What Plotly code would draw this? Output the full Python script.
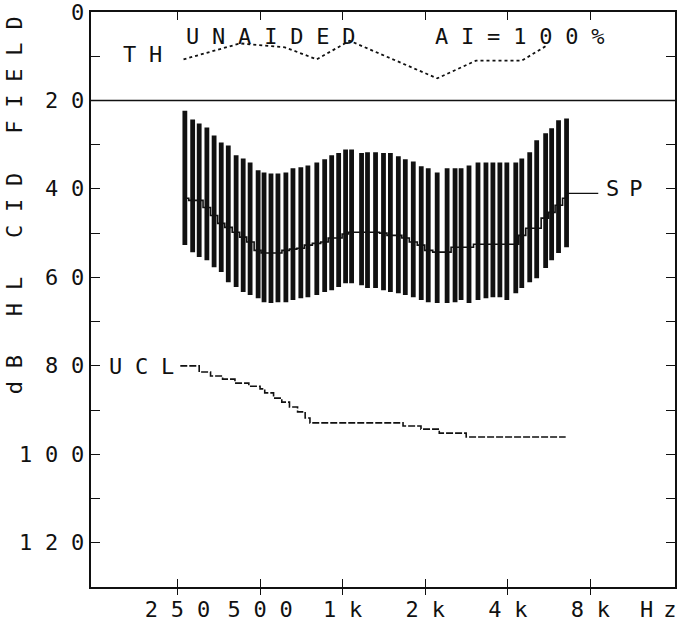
import math
import plotly.graph_objects as go

FONT = "DejaVu Sans Mono"
INK = "#111111"

# ---------------- data ----------------
y_tick_vals = [0, 10, 20, 30, 40, 50, 60, 70, 80, 90, 100, 110, 120, 130]
y_label_vals = [0, 20, 40, 60, 80, 100, 120]
y_label_text = ["0", "20", "40", "60", "80", "100", "120"]
x_tick_freqs = [250, 500, 1000, 2000, 4000, 8000]
x_tick_text = ["250", "500", "1k", "2k", "4k", "8k"]

bar_freq = [266, 284, 300, 320, 340, 361, 383, 409, 434, 460, 492, 517, 548, 581, 621, 659, 704, 747,
            805, 860, 912, 967, 1025, 1078, 1172, 1232, 1318, 1409, 1493, 1596, 1692, 1809, 1934, 2051, 2211,
            2403, 2569, 2702, 2888, 3114, 3329, 3529, 3742, 3967, 4276, 4497, 4807, 5096, 5494, 5777, 6122, 6548]
bar_top = [22.3, 24.3, 25.2, 26.1, 27.9, 29.5, 30.2, 32.4, 33.1, 34.0, 35.8, 36.3, 36.5, 36.5, 36.3, 35.3, 35.1, 34.7,
           34.0, 33.3, 32.4, 31.9, 31.1, 31.1, 31.9, 31.7, 31.7, 31.9, 31.9, 32.6, 33.3, 33.8, 34.9, 35.3, 36.3,
           35.3, 35.3, 35.3, 34.7, 34.0, 34.0, 34.0, 34.0, 34.0, 34.0, 33.1, 31.7, 29.0, 27.4, 26.3, 24.5, 24.1]
bar_bottom = [52.7, 54.3, 55.4, 56.1, 57.7, 58.8, 61.1, 62.2, 63.3, 64.0, 64.7, 65.6, 65.8, 65.6, 65.6, 65.1, 64.7, 64.5,
              64.0, 63.3, 62.9, 62.2, 61.3, 61.3, 61.8, 62.4, 62.4, 62.9, 63.3, 63.6, 64.0, 64.5, 65.1, 65.6, 65.8,
              65.8, 65.6, 65.1, 65.8, 65.1, 64.7, 64.5, 64.5, 65.1, 63.6, 62.4, 61.1, 60.2, 57.9, 56.1, 54.5, 53.2]
sp_level = [42.1, 42.6, 42.6, 44.2, 46.0, 47.8, 48.7, 49.8, 50.9, 52.0, 53.9, 54.5, 54.5, 54.5, 53.9, 53.6, 53.4, 52.7,
            52.3, 52.0, 51.1, 51.1, 50.2, 49.8, 49.8, 49.8, 49.8, 50.0, 50.5, 50.5, 51.1, 52.0, 52.7, 53.9, 54.3,
            54.3, 53.2, 53.2, 53.2, 52.5, 52.5, 52.5, 52.5, 52.5, 52.5, 50.5, 48.9, 48.9, 46.6, 45.3, 43.7, 42.1]

th_freq = [263, 423, 616, 805, 1060, 2211, 3062, 4497, 5540]
th_level = [10.7, 7.1, 8.0, 10.7, 6.5, 15.0, 11.0, 11.0, 7.6]

ucl_freq = [256, 300, 330, 365, 405, 455, 500, 520, 560, 600, 640, 685, 730, 760, 1660, 1930, 2250, 2820, 6500]
ucl_level = [80.0, 81.4, 82.3, 83.0, 83.9, 84.6, 85.2, 86.1, 87.3, 88.2, 89.3, 90.4, 91.8, 92.9, 93.6, 94.3, 95.2,
             96.1, 96.1]

# ---------------- geometry (pixels) ----------------
W, H = 684, 634
L, R, T, B = 91, 677, 12, 587
FS = 22
ADV = 0.6021 * FS   # monospace advance
LS = 12.8           # extra letter spacing


def px(x):
    return (x - L) / (R - L)


def py(y):
    return (B - y) / (B - T)


def spaced(s, ls=LS):
    if len(s) <= 1:
        return s
    return "<span style='letter-spacing:%.1fpx'>%s</span>%s" % (ls, s[:-1], s[-1])


def text_w(s, ls=LS):
    return len(s) * ADV + (len(s) - 1) * ls


fig = go.Figure()

# speech-range bars
bx, by = [], []
for f, t, b in zip(bar_freq, bar_top, bar_bottom):
    bx += [f, f, None]
    by += [t, b, None]
fig.add_trace(go.Scatter(x=bx, y=by, mode="lines", line=dict(color=INK, width=4.8),
                         hoverinfo="skip", showlegend=False))

# SP step line
fig.add_trace(go.Scatter(x=bar_freq, y=sp_level, mode="lines", line=dict(color=INK, width=1.6, shape="hvh"),
                         showlegend=False))

# TH dotted line
fig.add_trace(go.Scatter(x=th_freq, y=th_level, mode="lines",
                         line=dict(color=INK, width=1.8, dash="3px,3px"), showlegend=False))

# UCL step line
fig.add_trace(go.Scatter(x=ucl_freq, y=ucl_level, mode="lines",
                         line=dict(color=INK, width=1.6, shape="hv", dash="7px,2px"), showlegend=False))

xr = [math.log10(121), math.log10(16270)]
tf = dict(family=FONT, size=FS, color=INK)

fig.update_layout(
    width=W, height=H,
    margin=dict(l=L, r=W - R, t=T, b=H - B, pad=0),
    paper_bgcolor="white", plot_bgcolor="white",
    showlegend=False,
    xaxis=dict(type="log", range=xr, showgrid=False, zeroline=False,
               showline=True, linecolor=INK, linewidth=1.6, mirror="ticks",
               ticks="inside", ticklen=8, tickwidth=1.4, tickcolor=INK,
               tickvals=x_tick_freqs, ticktext=[spaced(t) for t in x_tick_text],
               tickfont=tf, ticklabelstandoff=2),
    xaxis2=dict(type="log", range=xr, overlaying="x", side="bottom", anchor="y",
                showgrid=False, zeroline=False, showline=False,
                ticks="outside", ticklen=7, tickwidth=1.4, tickcolor=INK,
                tickvals=x_tick_freqs, showticklabels=False),
    yaxis=dict(range=[130, 0], showgrid=False, zeroline=False,
               showline=True, linecolor=INK, linewidth=1.6, mirror="ticks",
               ticks="inside", ticklen=9, tickwidth=1.4, tickcolor=INK,
               tickvals=y_tick_vals, showticklabels=False),
)
# dummy trace for xaxis2 so it renders
fig.add_trace(go.Scatter(x=[1000], y=[None], xaxis="x2", showlegend=False, hoverinfo="skip"))

# 20 dB separator line
fig.add_shape(type="line", xref="paper", yref="y", x0=0, x1=1, y0=20, y1=20,
              line=dict(color=INK, width=1.6))
# SP leader
fig.add_shape(type="line", xref="paper", yref="y", x0=px(568), x1=px(600), y0=41, y1=41,
              line=dict(color=INK, width=1.4))

# y tick labels (right edge at x=85 px), placed with a fixed box width
for v, t in zip(y_label_vals, y_label_text):
    w = text_w(t)
    fig.add_annotation(xref="paper", yref="y", x=px(85 - w - 2), y=v, text=spaced(t), showarrow=False,
                       xanchor="left", yanchor="middle", align="left", width=w + 16, font=tf,
                       borderpad=0)

ann = [
    dict(text=spaced("dB HL CID FIELD"), x=px(14), y=py(205), textangle=-90, xanchor="center", yanchor="middle"),
    dict(text=spaced("TH"), x=px(164), y=py(55), xanchor="right", yanchor="middle"),
    dict(text=spaced("UNAIDED"), x=px(184), y=py(37), xanchor="left", yanchor="middle"),
    dict(text=spaced("AI=100%"), x=px(434), y=py(37), xanchor="left", yanchor="middle"),
    dict(text=spaced("SP", 10), x=px(606), y=py(188), xanchor="left", yanchor="middle"),
    dict(text=spaced("UCL"), x=px(176), y=py(366), xanchor="right", yanchor="middle"),
    dict(text=spaced("Hz", 10), x=px(640), y=py(609), xanchor="left", yanchor="middle"),
]
for a in ann:
    fig.add_annotation(xref="paper", yref="paper", showarrow=False, font=tf, **a)

fig.write_html("out.html")
